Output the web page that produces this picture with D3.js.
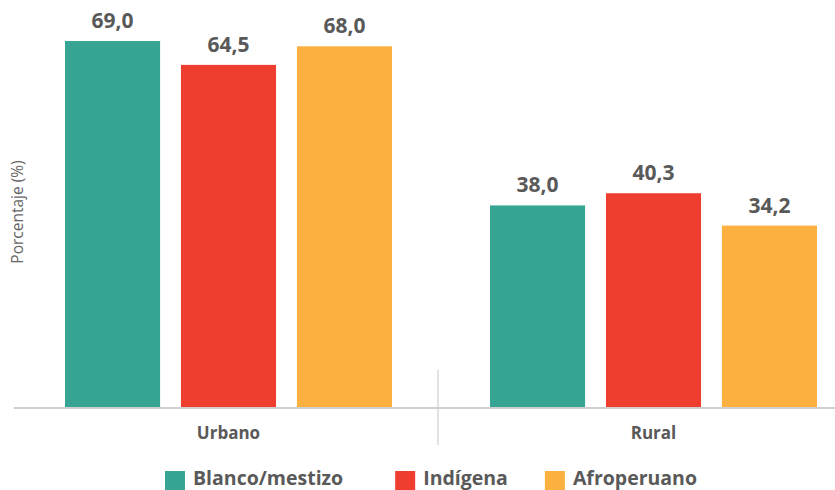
<!DOCTYPE html>
<html>
<head>
<meta charset="utf-8">
<script src="https://cdn.jsdelivr.net/npm/d3@7"></script>
<style>
  body { margin: 0; background: #fff; }
  text { font-family: "Open Sans", sans-serif; }
</style>
</head>
<body>
<div id="chart"></div>
<script>
// data
const groups = ["Urbano", "Rural"];
const series = ["Blanco/mestizo", "Indígena", "Afroperuano"];
const urbano = [69.0, 64.5, 68.0];
const rural = [38.0, 40.3, 34.2];
const colors = ["#36a593", "#ef3e2f", "#fcb040"];

const width = 835, height = 490;
const values = { Urbano: urbano, Rural: rural };

const svg = d3.select("#chart").append("svg")
    .attr("width", width)
    .attr("height", height);

const baseY = 407;

const x0 = d3.scaleBand().domain(groups).range([15, 865]);
const x1 = d3.scaleBand().domain(series).range([50, 377]).paddingInner(0.18);
const y = d3.scaleLinear().domain([0, 69]).range([baseY, 41]);
const color = d3.scaleOrdinal().domain(series).range(colors);

const fmt = v => d3.format(".1f")(v).replace(".", ",");

// bars
const g = svg.selectAll(".grp")
    .data(groups)
    .enter()
    .append("g")
    .attr("transform", d => `translate(${x0(d)},0)`);

g.selectAll("rect")
    .data(d => series.map((s, i) => ({ s: s, v: values[d][i] })))
    .enter()
    .append("rect")
    .attr("x", d => x1(d.s))
    .attr("width", x1.bandwidth())
    .attr("y", d => y(d.v))
    .attr("height", d => baseY - y(d.v))
    .attr("fill", d => color(d.s));

g.selectAll(".val")
    .data(d => series.map((s, i) => ({ s: s, v: values[d][i] })))
    .enter()
    .append("text")
    .attr("class", "val")
    .attr("x", d => x1(d.s) + x1.bandwidth() / 2)
    .attr("y", d => y(d.v) - 13)
    .attr("text-anchor", "middle")
    .style("font-size", "21px")
    .style("font-weight", 700)
    .attr("fill", "#595959")
    .text(d => fmt(d.v));

// axis line
svg.append("line")
    .attr("x1", 14).attr("x2", width)
    .attr("y1", baseY + 1).attr("y2", baseY + 1)
    .attr("stroke", "#cfcfcf")
    .attr("stroke-width", 2);

// group separator
svg.append("line")
    .attr("x1", x0("Rural") - 2).attr("x2", x0("Rural") - 2)
    .attr("y1", 370).attr("y2", 445)
    .attr("stroke", "#d0d0d0")
    .attr("stroke-width", 1.2);

// category labels
svg.selectAll(".cat")
    .data(groups)
    .enter()
    .append("text")
    .attr("x", d => x0(d) + (x1.range()[0] + x1.range()[1]) / 2)
    .attr("y", 439)
    .attr("text-anchor", "middle")
    .style("font-size", "17px")
    .style("font-weight", 700)
    .attr("fill", "#595959")
    .text(d => d);

// y axis title
svg.append("text")
    .attr("transform", "translate(23,212) rotate(-90)")
    .attr("text-anchor", "middle")
    .style("font-size", "15.5px")
    .attr("fill", "#666")
    .text("Porcentaje (%)");

// legend
const legend = svg.append("g");
const gaps = [52, 37, 0];
let lx = 165;
series.forEach(function (s, i) {
    legend.append("rect")
        .attr("x", lx).attr("y", 471)
        .attr("width", 20).attr("height", 19)
        .attr("fill", color(s));
    const t = legend.append("text")
        .attr("x", lx + 28)
        .attr("y", 485)
        .style("font-size", "19.5px")
        .style("font-weight", 700)
        .attr("fill", "#595959")
        .text(s);
    lx += 28 + t.node().getComputedTextLength() + gaps[i];
});
</script>
</body>
</html>
